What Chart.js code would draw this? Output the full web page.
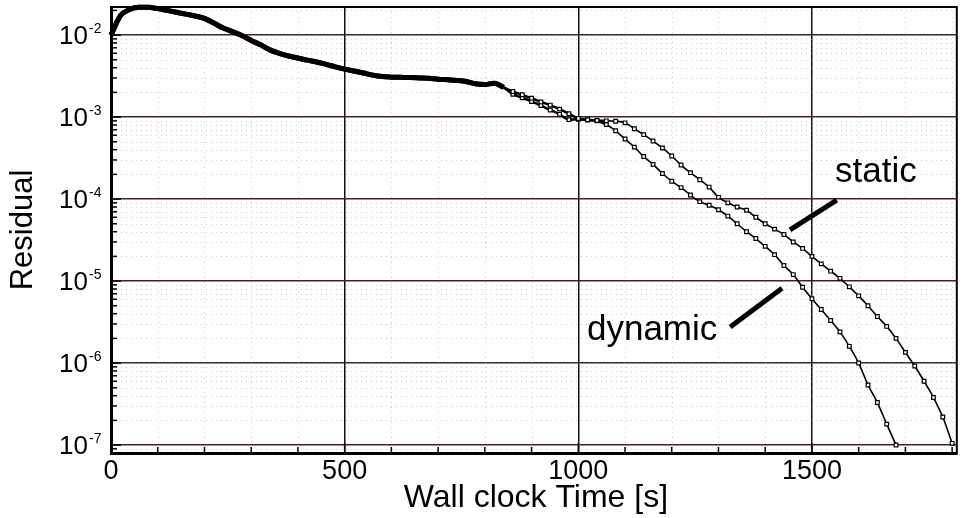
<!DOCTYPE html>
<html>
<head>
<meta charset="utf-8">
<script src="https://cdn.jsdelivr.net/npm/chart.js@4.4.1/dist/chart.umd.min.js"></script>
<style>
  html, body { margin: 0; padding: 0; background: #fff; }
  #wrap { width: 962px; height: 518px; position: relative; }
</style>
</head>
<body>
<div id="wrap"><canvas id="chart"></canvas></div>
<script>
// --- data (time in s, residual) ---
const sharedTime = [0, 20, 40, 60, 80, 100, 120, 140, 160, 180, 200, 220, 240, 260, 280, 300, 320, 340, 360, 380,
    400, 420, 440, 460, 480, 500, 520, 540, 560, 580, 600, 620, 640, 660, 680, 700, 720, 740, 760, 780, 800, 820, 840];
const sharedResidual = [1.0e-2, 1.72e-2, 2.05e-2, 2.18e-2, 2.18e-2, 2.1e-2, 2.0e-2, 1.9e-2, 1.8e-2, 1.71e-2,
    1.6e-2, 1.4e-2, 1.22e-2, 1.1e-2, 9.9e-3, 8.6e-3, 7.6e-3, 6.6e-3, 6.0e-3, 5.55e-3,
    5.25e-3, 4.95e-3, 4.7e-3, 4.4e-3, 4.1e-3, 3.85e-3, 3.65e-3, 3.45e-3, 3.25e-3, 3.12e-3,
    3.07e-3, 3.05e-3, 3.03e-3, 3.0e-3, 2.97e-3, 2.9e-3, 2.85e-3, 2.8e-3, 2.72e-3, 2.55e-3,
    2.5e-3, 2.58e-3, 2.3e-3];

const staticTime = [860, 880, 900, 920, 940, 960, 980, 1000, 1020, 1040, 1060, 1080, 1100, 1120, 1140, 1160,
    1180, 1200, 1220, 1240, 1260, 1280, 1300, 1320, 1340, 1360, 1380, 1400, 1420, 1440, 1460, 1480,
    1500, 1520, 1540, 1560, 1580, 1600, 1620, 1640, 1660, 1680, 1700, 1720, 1740, 1760, 1780, 1800];
const staticResidual = [2.05e-3, 1.87e-3, 1.7e-3, 1.53e-3, 1.4e-3, 1.25e-3, 1.1e-3, 9.6e-4, 9.3e-4, 9.1e-4,
    9.0e-4, 8.9e-4, 8.5e-4, 7.2e-4, 6.1e-4, 5.1e-4, 4.2e-4, 3.35e-4, 2.6e-4, 2.1e-4,
    1.72e-4, 1.4e-4, 1.05e-4, 9.0e-5, 8.0e-5, 7.3e-5, 6.0e-5, 5.0e-5, 4.3e-5, 3.7e-5,
    3.0e-5, 2.5e-5, 2.0e-5, 1.62e-5, 1.32e-5, 1.08e-5, 8.5e-6, 6.6e-6, 5.0e-6, 3.7e-6,
    2.8e-6, 2.0e-6, 1.35e-6, 9.2e-7, 6.0e-7, 3.8e-7, 2.2e-7, 1.05e-7];

const dynamicTime = [860, 880, 900, 920, 940, 960, 980, 1000, 1020, 1040, 1060, 1080, 1100, 1120, 1140, 1160,
    1180, 1200, 1220, 1240, 1260, 1280, 1300, 1320, 1340, 1360, 1380, 1400, 1420, 1440, 1460, 1480,
    1500, 1520, 1540, 1560, 1580, 1600, 1620, 1640, 1660, 1680];
const dynamicResidual = [1.9e-3, 1.72e-3, 1.55e-3, 1.38e-3, 1.22e-3, 1.08e-3, 9.3e-4, 9.4e-4, 9.2e-4, 9.0e-4,
    8.1e-4, 6.8e-4, 5.4e-4, 4.3e-4, 3.3e-4, 2.65e-4, 2.05e-4, 1.65e-4, 1.38e-4, 1.12e-4,
    9.3e-5, 8.4e-5, 7.4e-5, 6.2e-5, 5.0e-5, 4.0e-5, 3.3e-5, 2.65e-5, 2.1e-5, 1.55e-5,
    1.2e-5, 8.4e-6, 6.1e-6, 4.5e-6, 3.3e-6, 2.4e-6, 1.6e-6, 1.0e-6, 5.4e-7, 3.3e-7,
    1.8e-7, 1.0e-7];

const xTickValues = [0, 500, 1000, 1500];
const xTickLabels = ["0", "500", "1000", "1500"];
const yExponents = [-7, -6, -5, -4, -3, -2];

// labels with their pointer lines, in data coordinates
const notes = [
    { text: "static", at: [1637, 2.1e-4], from: [1453, 4.2e-5], to: [1553, 9.7e-5] },
    { text: "dynamic", at: [1158, 2.5e-6], from: [1325, 2.75e-6], to: [1436, 8.2e-6] }
];

const FONT = '"Liberation Sans", Arial, Helvetica, sans-serif';

const toPoints = (ts, vs) => ts.map((t, i) => ({ x: t, y: vs[i] }));

function series(label, time, values) {
    return {
        label,
        data: toPoints(sharedTime, sharedResidual).concat(toPoints(time, values)),
        borderColor: "#000",
        backgroundColor: "rgba(255,255,255,0)",
        cubicInterpolationMode: "monotone",
        pointStyle: "rect",
        pointRadius: ctx => (ctx.raw && ctx.raw.x < 850 ? 0 : 2.6),
        pointBorderWidth: 1.2,
        pointBorderColor: "#000",
        pointBackgroundColor: "#fff",
        segment: {
            borderWidth: ctx => (ctx.p0.parsed.x < 840 ? 5 : ctx.p0.parsed.x < 1060 ? 2.5 : 1.6)
        },
        clip: 6
    };
}

const decor = {
    id: "decor",
    beforeDatasetsDraw(chart) {
        const { ctx, chartArea: a, scales: { x, y } } = chart;
        ctx.save();
        ctx.strokeStyle = "rgba(190,140,140,0.45)";
        ctx.lineWidth = 1;
        ctx.setLineDash([1, 4]);
        // faint dotted minor grid
        for (let t = 100; t < 1810; t += 100) {
            if (t % 500 === 0) continue;
            const px = Math.round(x.getPixelForValue(t)) + 0.5;
            ctx.beginPath(); ctx.moveTo(px, a.top); ctx.lineTo(px, a.bottom); ctx.stroke();
        }
        for (let e = -8; e <= -2; e++) {
            for (let m = 2; m <= 9; m++) {
                const v = m * Math.pow(10, e);
                if (v < y.min || v > y.max) continue;
                const py = Math.round(y.getPixelForValue(v)) + 0.5;
                ctx.beginPath(); ctx.moveTo(a.left, py); ctx.lineTo(a.right, py); ctx.stroke();
            }
        }
        ctx.restore();
    },
    afterDraw(chart) {
        const { ctx, chartArea: a, scales: { x, y } } = chart;
        ctx.save();
        ctx.strokeStyle = "#000";
        ctx.lineWidth = 2;
        ctx.strokeRect(a.left, a.top, a.right - a.left, a.bottom - a.top);

        // inward tick marks
        ctx.lineWidth = 1.5;
        for (let e = -8; e <= -2; e++) {
            for (let m = 1; m <= 9; m++) {
                const v = m * Math.pow(10, e);
                if (v < y.min || v > y.max) continue;
                const py = y.getPixelForValue(v);
                ctx.beginPath(); ctx.moveTo(a.left, py); ctx.lineTo(a.left + (m === 1 ? 10 : 6), py); ctx.stroke();
            }
        }
        for (let t = 100; t < 1810; t += 100) {
            const px = x.getPixelForValue(t);
            ctx.beginPath(); ctx.moveTo(px, a.bottom); ctx.lineTo(px, a.bottom - (t % 500 === 0 ? 10 : 6)); ctx.stroke();
        }

        // y tick labels 10^n
        ctx.fillStyle = "#000";
        ctx.textBaseline = "alphabetic";
        yExponents.forEach(e => {
            const py = y.getPixelForValue(Math.pow(10, e));
            ctx.font = "26px " + FONT;
            ctx.textAlign = "right";
            ctx.fillText("10", 88, py + 9);
            ctx.font = "14px " + FONT;
            ctx.textAlign = "left";
            ctx.fillText(String(e), 89, py - 2);
        });

        // axis titles
        ctx.textAlign = "center";
        ctx.font = "32px " + FONT;
        ctx.fillText("Wall clock Time [s]", (a.left + a.right) / 2 + 2, 507);
        ctx.save();
        ctx.translate(32, (a.top + a.bottom) / 2);
        ctx.rotate(-Math.PI / 2);
        ctx.font = "31px " + FONT;
        ctx.fillText("Residual", 0, 0);
        ctx.restore();

        // labels and pointers
        notes.forEach(n => {
            ctx.lineWidth = 5;
            ctx.lineCap = "butt";
            ctx.beginPath();
            ctx.moveTo(x.getPixelForValue(n.from[0]), y.getPixelForValue(n.from[1]));
            ctx.lineTo(x.getPixelForValue(n.to[0]), y.getPixelForValue(n.to[1]));
            ctx.stroke();
            ctx.font = "35px " + FONT;
            ctx.textAlign = "center";
            ctx.textBaseline = "middle";
            ctx.fillText(n.text, x.getPixelForValue(n.at[0]), y.getPixelForValue(n.at[1]));
        });
        ctx.restore();
    }
};

new Chart(document.getElementById("chart"), {
    type: "line",
    data: {
        datasets: [
            series("static", staticTime, staticResidual),
            series("dynamic", dynamicTime, dynamicResidual)
        ]
    },
    options: {
        responsive: true,
        maintainAspectRatio: false,
        animation: false,
        layout: { padding: { top: 7, right: 5, left: 0, bottom: 0 } },
        plugins: { legend: { display: false }, tooltip: { enabled: false } },
        scales: {
            x: {
                type: "linear",
                min: 0,
                max: 1810,
                afterBuildTicks: s => { s.ticks = xTickValues.map(v => ({ value: v })); },
                afterFit: s => { s.height = 65; },
                ticks: {
                    color: "#000",
                    font: { size: 27, family: FONT },
                    padding: 2,
                    maxRotation: 0,
                    autoSkip: false,
                    callback: v => xTickLabels[xTickValues.indexOf(v)]
                },
                grid: { drawTicks: false, color: "#111", lineWidth: 1.5 },
                border: { color: "#000", width: 3 }
            },
            y: {
                type: "logarithmic",
                min: 8e-8,
                max: 2.2e-2,
                afterBuildTicks: s => { s.ticks = yExponents.map(e => ({ value: Math.pow(10, e) })); },
                afterFit: s => { s.width = 111; },
                ticks: { display: false },
                grid: { drawTicks: false, color: "#3a2626", lineWidth: 1.5 },
                border: { color: "#000", width: 3 }
            }
        }
    },
    plugins: [decor]
});
</script>
</body>
</html>
